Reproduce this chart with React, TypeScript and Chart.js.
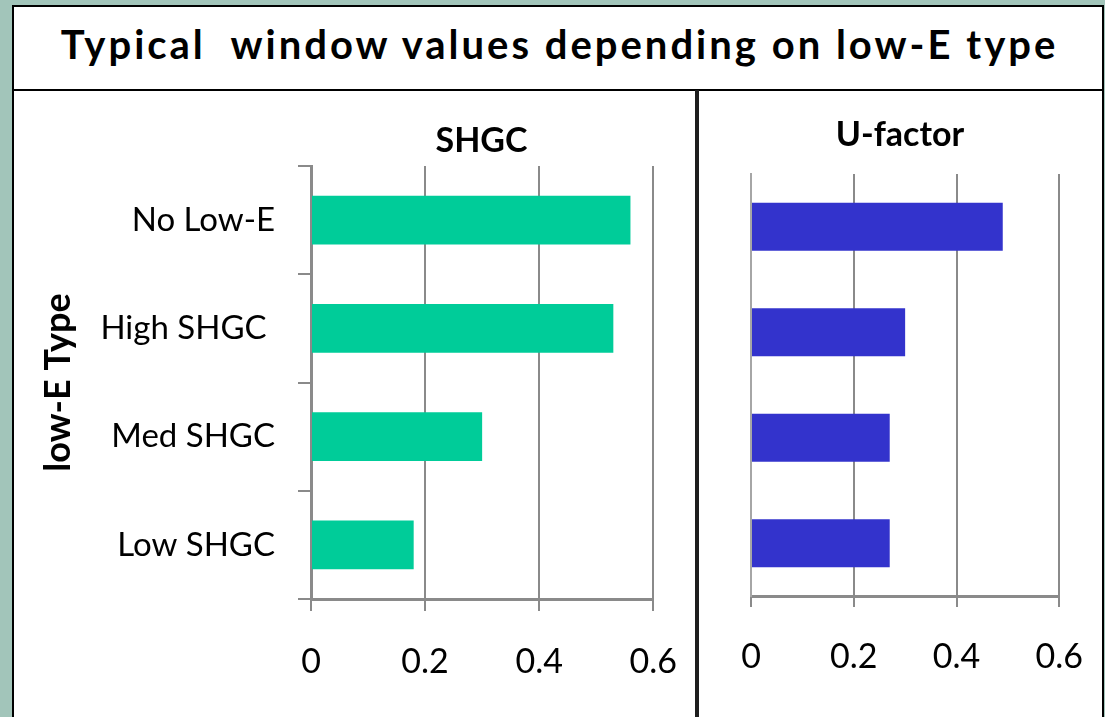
import React, { useEffect, useRef } from 'react';
import { Chart, registerables } from 'chart.js';

Chart.register(...registerables);

const categories = ['No Low-E', 'High SHGC ', 'Med SHGC', 'Low SHGC'];
const shgcValues = [0.56, 0.53, 0.3, 0.18];
const uFactorValues = [0.49, 0.3, 0.27, 0.27];
const xTicks = [0, 0.2, 0.4, 0.6];
const mainTitle = 'Typical  window values depending on low-E type';
const shgcTitle = 'SHGC';
const uTitle = 'U-factor';
const yAxisTitle = 'low-E Type';

const FONT = 'Lato';

const panelTitlePlugin = {
  id: 'panelTitle',
  afterDraw(chart: any, _args: any, opts: any) {
    if (!opts || !opts.text) return;
    const { ctx } = chart;
    ctx.save();
    ctx.font = opts.font;
    ctx.fillStyle = '#000';
    ctx.textAlign = 'center';
    ctx.textBaseline = 'alphabetic';
    ctx.fillText(opts.text, opts.x, opts.y);
    ctx.restore();
  },
};

function makeXScale(height: number, tickLength: number, padding: number) {
  return {
    type: 'linear',
    min: 0,
    max: 0.6,
    afterBuildTicks: (s: any) => {
      s.ticks = xTicks.map((v) => ({ value: v }));
    },
    afterFit: (s: any) => {
      s.height = height;
    },
    grid: { color: '#8a8a8a', lineWidth: 2, tickLength, drawTicks: true },
    border: { color: '#8a8a8a', width: 3 },
    ticks: {
      font: { family: FONT, size: 34 },
      color: '#000',
      padding,
      callback: (v: any) => String(Math.round(Number(v) * 10) / 10),
    },
  };
}

function SHGCChart() {
  const ref = useRef<HTMLCanvasElement>(null);
  useEffect(() => {
    const chart = new Chart(ref.current as HTMLCanvasElement, {
      type: 'bar',
      data: {
        labels: categories,
        datasets: [
          {
            data: shgcValues,
            backgroundColor: '#00CC99',
            barPercentage: 0.45,
            categoryPercentage: 1,
          },
        ],
      },
      options: {
        indexAxis: 'y',
        responsive: false,
        animation: false,
        layout: { padding: { top: 74, right: 0, left: 0, bottom: 0 } },
        plugins: {
          legend: { display: false },
          tooltip: { enabled: false },
          panelTitle: { text: shgcTitle, x: 467.5, y: 59.5, font: `bold 34px ${FONT}` },
        } as any,
        scales: {
          x: makeXScale(118, 12, 31) as any,
          y: {
            afterFit: (s: any) => {
              s.width = 297;
            },
            grid: { drawOnChartArea: false, color: '#8a8a8a', lineWidth: 2, tickLength: 13, offset: true },
            border: { color: '#8a8a8a', width: 3 },
            ticks: { font: { family: FONT, size: 33 }, color: '#000', padding: 23 },
            title: {
              display: true,
              text: yAxisTitle,
              font: { family: FONT, size: 36, weight: 'bold' },
              color: '#000',
              padding: { top: 23, bottom: 0 },
            },
          },
        },
      },
      plugins: [panelTitlePlugin as any],
    });
    return () => chart.destroy();
  }, []);
  return (
    <canvas
      ref={ref}
      width={694}
      height={625}
      style={{ position: 'absolute', left: 14, top: 92, width: 694, height: 625 }}
    />
  );
}

function UFactorChart() {
  const ref = useRef<HTMLCanvasElement>(null);
  useEffect(() => {
    const chart = new Chart(ref.current as HTMLCanvasElement, {
      type: 'bar',
      data: {
        labels: categories,
        datasets: [
          {
            data: uFactorValues,
            backgroundColor: '#3333CC',
            barPercentage: 0.455,
            categoryPercentage: 1,
          },
        ],
      },
      options: {
        indexAxis: 'y',
        responsive: false,
        animation: false,
        layout: { padding: { top: 82, right: 0, left: 0, bottom: 0 } },
        plugins: {
          legend: { display: false },
          tooltip: { enabled: false },
          panelTitle: { text: uTitle, x: 200, y: 54, font: `bold 34px ${FONT}` },
        } as any,
        scales: {
          x: makeXScale(121, 11, 30) as any,
          y: {
            afterFit: (s: any) => {
              s.width = 51;
            },
            grid: { drawOnChartArea: false, drawTicks: false, color: '#a6a6a6', lineWidth: 2 },
            border: { color: '#a6a6a6', width: 2 },
            ticks: { display: false },
          },
        },
      },
      plugins: [panelTitlePlugin as any],
    });
    return () => chart.destroy();
  }, []);
  return (
    <canvas
      ref={ref}
      width={413}
      height={625}
      style={{ position: 'absolute', left: 700, top: 92, width: 413, height: 625 }}
    />
  );
}

export default function App() {
  return (
    <div
      style={{
        position: 'fixed',
        left: 0,
        top: 0,
        width: 1105,
        height: 717,
        overflow: 'hidden',
        background: '#A2C5BA',
      }}
    >
      <div
        style={{
          position: 'absolute',
          left: 12,
          top: 5,
          width: 1092,
          height: 730,
          background: '#fff',
          border: '2px solid #000',
          boxSizing: 'border-box',
        }}
      />
      <div
        style={{
          position: 'absolute',
          left: 12,
          top: 5,
          width: 1092,
          height: 86,
          borderBottom: '2px solid #000',
          boxSizing: 'border-box',
          display: 'flex',
          alignItems: 'center',
          justifyContent: 'center',
          paddingBottom: 6,
          paddingLeft: 3,
          fontFamily: FONT,
          fontWeight: 'bold',
          fontSize: 40,
          letterSpacing: '3px',
          color: '#000',
          whiteSpace: 'pre',
        }}
      >
        {mainTitle}
      </div>
      <SHGCChart />
      <UFactorChart />
      <div
        style={{
          position: 'absolute',
          left: 695,
          top: 90,
          width: 4,
          height: 640,
          background: '#1e1e1e',
        }}
      />
      <div
        style={{
          position: 'absolute',
          left: 1102,
          top: 5,
          width: 3,
          height: 720,
          background: '#A2C5BA',
          borderLeft: '2px solid #000',
          boxSizing: 'border-box',
        }}
      />
    </div>
  );
}
